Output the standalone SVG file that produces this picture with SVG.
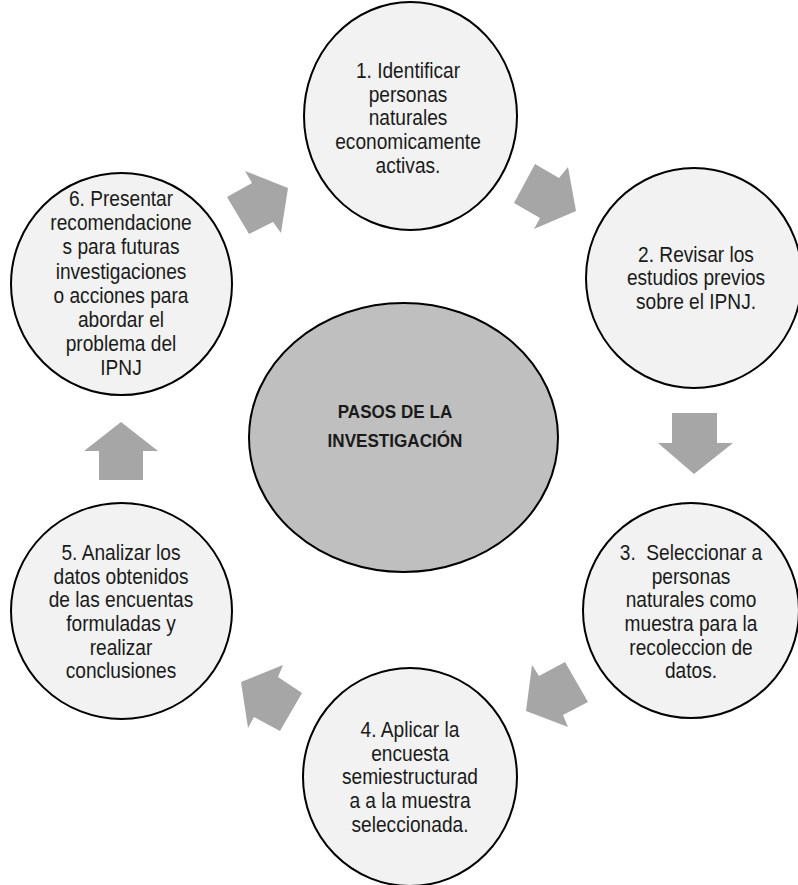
<svg xmlns="http://www.w3.org/2000/svg" width="798" height="885" viewBox="0 0 798 885">
<style>
.step{fill:#f2f2f2;stroke:#000;stroke-width:2}
.core{fill:#bfbfbf;stroke:#000;stroke-width:2}
.arrow{fill:#a6a6a6;stroke:none}
.t{font-family:"Liberation Sans",Arial,sans-serif;font-size:22.5px;fill:#1a1a1a;text-anchor:middle;white-space:pre}
.tb{font-family:"Liberation Sans",Arial,sans-serif;font-size:18px;font-weight:bold;fill:#1a1a1a;text-anchor:middle}
</style>
<rect width="798" height="885" fill="#fff"/>
<g id="connectors">
<polygon class="arrow" points="227,197 249,234 273,222 281,233 288,188 245,171 252,183"/>
<polygon class="arrow" points="535,164 559,178 568,167 576,211 534,229 540,218 514,203"/>
<polygon class="arrow" points="672,413 717,413 717,443 733,443 694,474 658,443 672,443"/>
<polygon class="arrow" points="532,665 539,676 565,662 588,702 563,715 568,727 526,711"/>
<polygon class="arrow" points="241,682 283,665 278,677 302,693 280,731 254,717 248,728"/>
<polygon class="arrow" points="121,422 158,451 143,451 143,480 99,480 99,451 84,451"/>
</g>
<g id="center">
<ellipse class="core" cx="403.5" cy="437.5" rx="154.5" ry="134.5"/>
<g transform="translate(395 0) scale(0.95 1)">
<text class="tb" x="0" y="418">PASOS DE LA</text>
<text class="tb" x="0" y="447">INVESTIGACIÓN</text>
</g>
</g>
<g id="step1">
<ellipse class="step" cx="410.5" cy="116" rx="106.5" ry="114"/>
<g transform="translate(408 0) scale(0.85 1)">
<text class="t" x="0" y="78">1. Identificar</text>
<text class="t" x="0" y="102">personas</text>
<text class="t" x="0" y="125.5">naturales</text>
<text class="t" x="0" y="149.5">economicamente</text>
<text class="t" x="0" y="173">activas.</text>
</g>
</g>
<g id="step2">
<ellipse class="step" cx="694" cy="278" rx="108" ry="110"/>
<g transform="translate(696 0) scale(0.85 1)">
<text class="t" x="0" y="262">2. Revisar los</text>
<text class="t" x="0" y="285.5">estudios previos</text>
<text class="t" x="0" y="309">sobre el IPNJ.</text>
</g>
</g>
<g id="step3">
<ellipse class="step" cx="691" cy="610.5" rx="108" ry="107.5"/>
<g transform="translate(691 0) scale(0.85 1)">
<text class="t" x="0" y="560">3.  Seleccionar a</text>
<text class="t" x="0" y="583.7">personas</text>
<text class="t" x="0" y="607.4">naturales como</text>
<text class="t" x="0" y="631.1">muestra para la</text>
<text class="t" x="0" y="654.8">recoleccion de</text>
<text class="t" x="0" y="678.5">datos.</text>
</g>
</g>
<g id="step4">
<ellipse class="step" cx="410" cy="777" rx="107" ry="109"/>
<g transform="translate(410 0) scale(0.85 1)">
<text class="t" x="0" y="737">4. Aplicar la</text>
<text class="t" x="0" y="760.7">encuesta</text>
<text class="t" x="0" y="784.4">semiestructurad</text>
<text class="t" x="0" y="808.1">a a la muestra</text>
<text class="t" x="0" y="831.8">seleccionada.</text>
</g>
</g>
<g id="step5">
<ellipse class="step" cx="121.5" cy="611" rx="110.5" ry="108"/>
<g transform="translate(121 0) scale(0.85 1)">
<text class="t" x="0" y="560">5. Analizar los</text>
<text class="t" x="0" y="583.7">datos obtenidos</text>
<text class="t" x="0" y="607.4">de las encuentas</text>
<text class="t" x="0" y="631.1">formuladas y</text>
<text class="t" x="0" y="654.8">realizar</text>
<text class="t" x="0" y="678.5">conclusiones</text>
</g>
</g>
<g id="step6">
<ellipse class="step" cx="121.5" cy="284" rx="110.5" ry="111"/>
<g transform="translate(121 0) scale(0.85 1)">
<text class="t" x="0" y="206">6. Presentar</text>
<text class="t" x="0" y="230.2">recomendacione</text>
<text class="t" x="0" y="254.4">s para futuras</text>
<text class="t" x="0" y="278.6">investigaciones</text>
<text class="t" x="0" y="302.8">o acciones para</text>
<text class="t" x="0" y="327">abordar el</text>
<text class="t" x="0" y="351.2">problema del</text>
<text class="t" x="0" y="375.4">IPNJ</text>
</g>
</g>
</svg>
